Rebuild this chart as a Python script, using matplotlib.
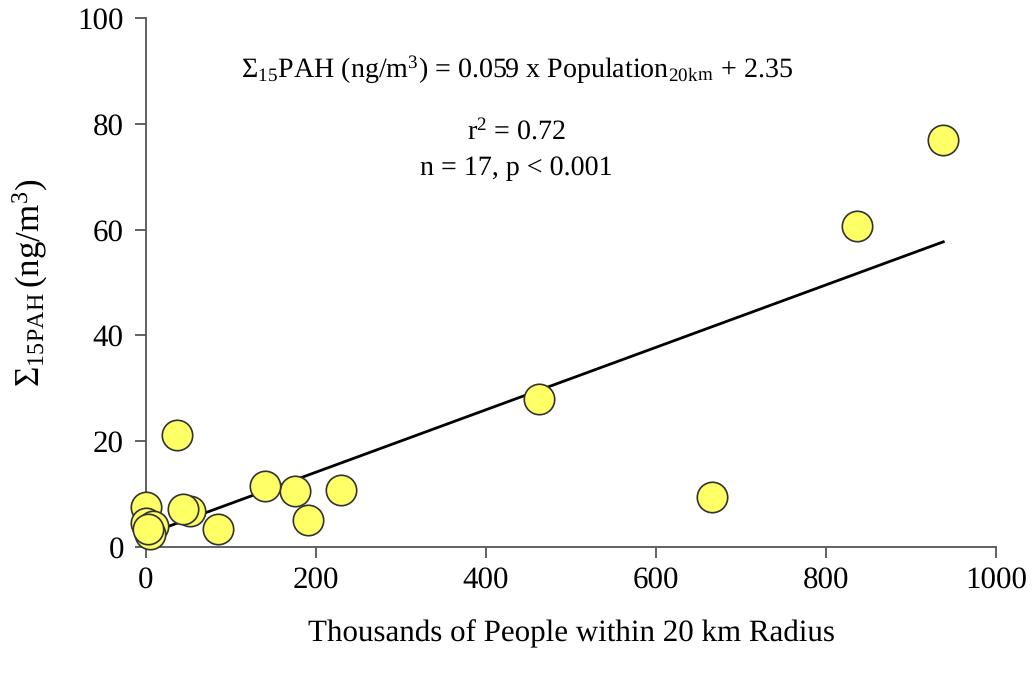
import matplotlib
matplotlib.use("Agg")
import matplotlib.pyplot as plt
import numpy as np

plt.rcParams["font.family"] = "Liberation Serif"
plt.rcParams["mathtext.fontset"] = "custom"
plt.rcParams["mathtext.rm"] = "Liberation Serif"
plt.rcParams["mathtext.it"] = "Liberation Serif:italic"
plt.rcParams["text.hinting"] = "no_hinting"
plt.rcParams["text.hinting_factor"] = 1

# population (thousands within 20 km) vs sum of 15 PAH (ng/m3)
population = [938, 836, 666, 462, 229, 190, 175, 140, 85, 52, 43, 36,
              0, 0, 8, 5, 2]
pah = [76.9, 60.7, 9.4, 28.0, 10.8, 5.1, 10.5, 11.5, 3.4, 6.8, 7.2, 21.2,
       7.6, 4.6, 4.0, 2.5, 3.5]
slope, intercept = 0.059, 2.35
x_ticks = [0, 200, 400, 600, 800, 1000]
y_ticks = [0, 20, 40, 60, 80, 100]

AXIS = "#555555"

fig = plt.figure(figsize=(10.35, 6.74), dpi=100)
ax = fig.add_axes([0.1411, 0.1884, 0.8212, 0.7849])

xs = np.array([0, max(population)])
ax.plot(xs, slope * xs + intercept, color="black", lw=2.0, zorder=2)
ax.scatter(population, pah, s=480, facecolor="#ffff66", edgecolor="#333333",
           linewidth=1.2, zorder=3, clip_on=False)

ax.set_xlim(0, 1000)
ax.set_ylim(0, 100)
ax.set_xticks(x_ticks)
ax.set_yticks(y_ticks)
ax.tick_params(direction="out", length=8, width=1.3, color=AXIS,
               labelsize=22, pad=8)
ax.tick_params(axis="x", pad=6)
for side in ("top", "right"):
    ax.spines[side].set_visible(False)
for side in ("left", "bottom"):
    ax.spines[side].set_color(AXIS)
    ax.spines[side].set_linewidth(1.3)

ax.set_xlabel("Thousands of People within 20 km Radius", fontsize=22,
              labelpad=18)
ax.set_ylabel(r"$\Sigma_{\mathrm{15PAH}}\,(\mathrm{ng/m^3})$", fontsize=25,
              labelpad=20)

ax.text(0.436, 0.902,
        r"$\Sigma_{15}$PAH (ng/m$^3$) = 0.059 x Population$_{20\mathrm{km}}$ + 2.35",
        transform=ax.transAxes, ha="center", va="center", fontsize=20)
ax.text(0.436, 0.783, r"r$^2$ = 0.72", transform=ax.transAxes,
        ha="center", va="center", fontsize=20)
ax.text(0.436, 0.716, "n = 17, p < 0.001", transform=ax.transAxes,
        ha="center", va="center", fontsize=20)

fig.savefig("out.png", dpi=100, facecolor="white")
